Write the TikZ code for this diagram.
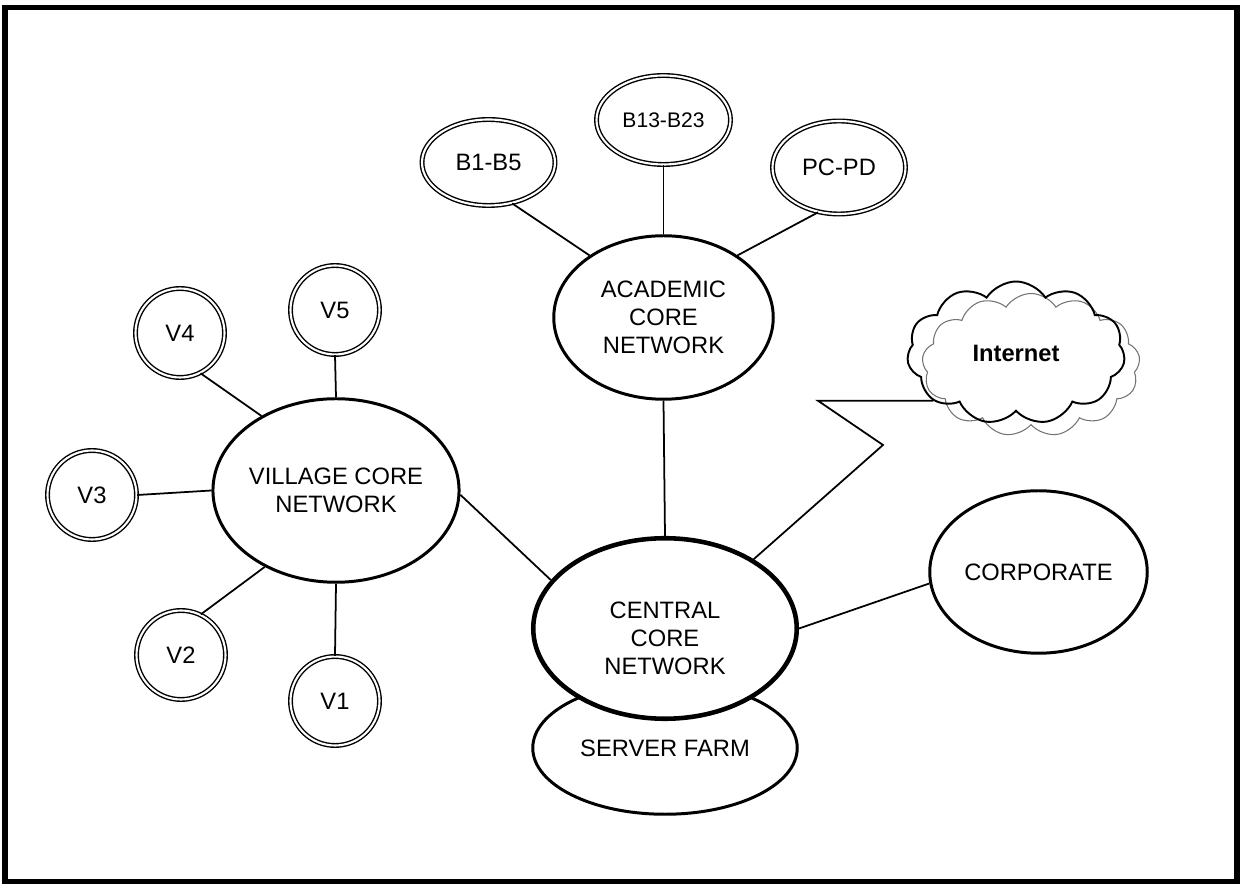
\documentclass[tikz,border=0pt]{standalone}
\usepackage{fontspec}
\setmainfont{Liberation Sans}
\usetikzlibrary{shapes.geometric,shapes.symbols}

\begin{document}
\begin{tikzpicture}[
  every node/.style={font=\fontsize{13.5}{16}\selectfont,inner sep=0pt,align=center},
  core/.style={ellipse,draw,line width=1.7pt,fill=white},
  site/.style={ellipse,draw,line width=0.8pt,double,double distance=1.2pt},
  link/.style={line width=1pt}]
  \useasboundingbox (0,0) rectangle (24.9,17.72);
  \draw[line width=3pt] (0.1,0.09) rectangle (24.74,17.57);
  % Academic side
  \node[core,minimum width=4.39cm,minimum height=3.27cm] (academic) at (13.27,11.37) {ACADEMIC\\CORE\\NETWORK};
  \node[site,minimum width=2.66cm,minimum height=1.72cm] (b1) at (9.77,14.47) {B1-B5};
  \node[site,minimum width=2.68cm,minimum height=1.78cm,font=\fontsize{12}{14}\selectfont] (b13) at (13.27,15.32) {B13-B23};
  \node[site,minimum width=2.66cm,minimum height=1.86cm] (pcpd) at (16.78,14.37) {PC-PD};
  \draw[link] (b1.-60) -- (academic.140);
  \draw[link] (b13.south) -- (academic.north);
  \draw[link] (pcpd.245) -- (academic.40);
  % Village side
  \node[core,minimum width=4.41cm,minimum height=3.67cm] (village) at (6.72,7.91) {VILLAGE CORE\\NETWORK};
  \node[site,minimum size=1.78cm] (v1) at (6.70,3.70) {V1};
  \node[site,minimum size=1.78cm] (v2) at (3.62,4.62) {V2};
  \node[site,minimum size=1.78cm] (v3) at (1.84,7.82) {V3};
  \node[site,minimum size=1.78cm] (v4) at (3.60,11.06) {V4};
  \node[site,minimum size=1.78cm] (v5) at (6.70,11.52) {V5};
  \draw[link] (v1.north) -- (village.south);
  \draw[link] (v2.64) -- (village.227);
  \draw[link] (v3.east) -- (village.west);
  \draw[link] (v4.-63) -- (village.135);
  \draw[link] (v5.south) -- (village.north);
  % Central core with server farm under it
  \node[core,minimum width=5.29cm,minimum height=2.65cm] (server) at (13.30,2.76) {SERVER FARM};
  \node[core,line width=2.6pt,minimum width=5.27cm,minimum height=3.61cm] (central) at (13.30,5.15) {};
  \node (centraltxt) at (13.30,4.96) {CENTRAL\\CORE\\NETWORK};
  \node[core,minimum width=4.35cm,minimum height=3.25cm] (corporate) at (20.77,6.28) {CORPORATE};
  \draw[link] (village.-2) -- (central.157);
  \draw[link] (academic.south) -- (central.north);
  \draw[link] (central.east) -- (corporate.186);
  % Internet cloud
  \node[cloud,draw=black!55,line width=0.6pt,cloud puffs=13,cloud puff arc=115,minimum width=4.36cm,minimum height=2.86cm] (inetb) at (20.62,10.42) {};
  \node[cloud,draw,line width=1.1pt,cloud puffs=11,cloud puff arc=115,minimum width=4.36cm,minimum height=2.86cm,font=\fontsize{13.5}{16}\selectfont\bfseries] (inet) at (20.32,10.66) {Internet};
  \coordinate (zz1) at (17.66,8.82);
  \coordinate (zz2) at (16.36,9.76);
  \draw[link] (central.38) -- (zz1) -- (zz2 |- inet.210) -- (inet.210);
\end{tikzpicture}
\end{document}
